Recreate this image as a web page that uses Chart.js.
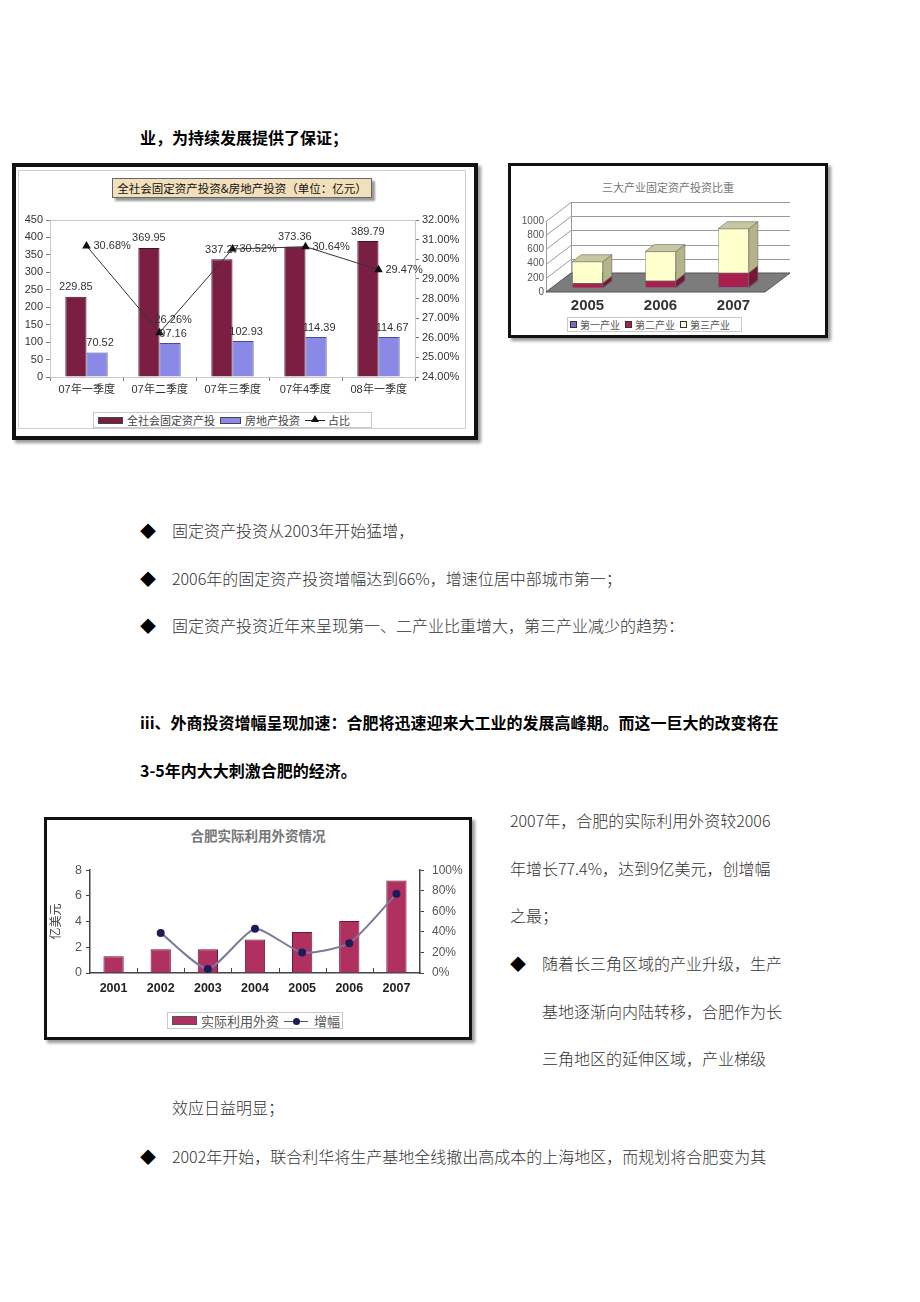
<!DOCTYPE html>
<html lang="zh-CN">
<head>
<meta charset="utf-8">
<title>合肥固定资产投资与外资</title>
<script src="https://cdn.jsdelivr.net/npm/chart.js@4.4.1/dist/chart.umd.min.js"></script>
<style>
html, body { margin: 0; padding: 0; background: #fff; }
body { width: 920px; height: 1302px; position: relative; overflow: hidden;
       font-family: "Noto Sans CJK SC", "Noto Sans", sans-serif; color: #333; }
.t { position: absolute; font-size: 16px; line-height: 20px; white-space: nowrap; font-weight: 300; }
.b { font-weight: bold; color: #000; }
.dot { color: #000; font-weight: normal; }
.frame { position: absolute; box-sizing: border-box; background: #fff; border: 4px solid #111;
         box-shadow: 3px 3px 3px #999; }
.inner { position: absolute; box-sizing: border-box; border: 1px solid #d0d0d0; }
canvas { position: absolute; }
.legend { position: absolute; box-sizing: border-box; border: 1px solid #c8c8c8; background: #fff;
          display: flex; align-items: center; white-space: nowrap; color: #444; }
.sw { display: inline-block; box-sizing: border-box; }
</style>
</head>
<body>

<div class="t b" style="left:140px;top:127px;">业，为持续发展提供了保证；</div>

<!-- 图一：全社会固定资产投资 & 房地产投资 -->
<div class="frame" style="left:12px;top:163px;width:466px;height:277px;"></div>
<div class="inner" style="left:18px;top:170px;width:448px;height:259px;"></div>
<div style="position:absolute;left:112px;top:178px;width:260px;height:20px;box-sizing:border-box;background:#f2dfbb;border:1px solid #666;box-shadow:3px 3px 2px #999;font-size:11.5px;line-height:18px;text-align:center;color:#111;">全社会固定资产投资&amp;房地产投资（单位：亿元）</div>
<canvas id="chart1" width="456" height="197" style="left:16px;top:205px;"></canvas>
<div class="legend" style="left:93px;top:412px;width:279px;height:16px;font-size:11px;padding-left:4px;">
  <span class="sw" style="width:25px;height:7px;background:#7a1f42;border:1px solid #444;"></span>
  <span style="margin:0 5px 0 4px;">全社会固定资产投</span>
  <span class="sw" style="width:21px;height:7px;background:#8a8ae6;border:1px solid #444;"></span>
  <span style="margin:0 5px 0 4px;">房地产投资</span>
  <span style="position:relative;width:20px;height:10px;display:inline-block;">
    <span style="position:absolute;left:0;top:5px;width:20px;height:1px;background:#222;"></span>
    <span style="position:absolute;left:6px;top:0;width:0;height:0;border-left:4px solid transparent;border-right:4px solid transparent;border-bottom:7px solid #111;"></span>
  </span>
  <span style="margin-left:3px;">占比</span>
</div>

<!-- 图二：三大产业固定资产投资比重 -->
<div class="frame" style="left:508px;top:163px;width:320px;height:175px;border-width:3px;"></div>
<div style="position:absolute;left:508px;width:320px;top:179px;text-align:center;font-size:11px;line-height:16px;color:#777;">三大产业固定资产投资比重</div>
<canvas id="chart2" width="306" height="120" style="left:514px;top:195px;"></canvas>
<div class="legend" style="left:567px;top:317px;width:175px;height:15px;font-size:10px;padding-left:2px;color:#555;">
  <span class="sw" style="width:7px;height:7px;background:#7070c0;border:1px solid #333;"></span>
  <span style="margin:0 5px 0 3px;">第一产业</span>
  <span class="sw" style="width:7px;height:7px;background:#a8204c;border:1px solid #333;"></span>
  <span style="margin:0 5px 0 3px;">第二产业</span>
  <span class="sw" style="width:7px;height:7px;background:#ffffcc;border:1px solid #333;"></span>
  <span style="margin:0 0 0 3px;">第三产业</span>
</div>

<div class="t dot" style="left:140px;top:520px;">◆</div>
<div class="t" style="left:172px;top:520px;">固定资产投资从2003年开始猛增，</div>
<div class="t dot" style="left:140px;top:568px;">◆</div>
<div class="t" style="left:172px;top:568px;">2006年的固定资产投资增幅达到66%，增速位居中部城市第一；</div>
<div class="t dot" style="left:140px;top:615px;">◆</div>
<div class="t" style="left:172px;top:615px;">固定资产投资近年来呈现第一、二产业比重增大，第三产业减少的趋势：</div>

<div class="t b" style="left:140px;top:712px;">iii、外商投资增幅呈现加速：合肥将迅速迎来大工业的发展高峰期。而这一巨大的改变将在</div>
<div class="t b" style="left:140px;top:760px;">3-5年内大大刺激合肥的经济。</div>

<!-- 图三：合肥实际利用外资情况 -->
<div class="frame" style="left:44px;top:817px;width:428px;height:223px;border-width:3px;"></div>
<div style="position:absolute;left:44px;width:428px;top:825px;text-align:center;font-size:13.5px;line-height:20px;color:#777;font-weight:bold;">合肥实际利用外资情况</div>
<canvas id="chart3" width="420" height="145" style="left:48px;top:855px;"></canvas>
<div class="legend" style="left:167px;top:1012px;width:176px;height:17px;font-size:13px;padding-left:4px;color:#555;">
  <span class="sw" style="width:25px;height:9px;background:#b03060;border:1px solid #555;"></span>
  <span style="margin:0 5px 0 4px;">实际利用外资</span>
  <span style="position:relative;width:24px;height:10px;display:inline-block;">
    <span style="position:absolute;left:0;top:5px;width:24px;height:1px;background:#555;"></span>
    <span style="position:absolute;left:9px;top:2px;width:7px;height:7px;border-radius:50%;background:#1c1c5c;"></span>
  </span>
  <span style="margin-left:6px;">增幅</span>
</div>

<div class="t" style="left:510px;top:810px;">2007年，合肥的实际利用外资较2006</div>
<div class="t" style="left:510px;top:858px;">年增长77.4%，达到9亿美元，创增幅</div>
<div class="t" style="left:510px;top:905px;">之最；</div>
<div class="t dot" style="left:510px;top:953px;">◆</div>
<div class="t" style="left:542px;top:953px;">随着长三角区域的产业升级，生产</div>
<div class="t" style="left:542px;top:1001px;">基地逐渐向内陆转移，合肥作为长</div>
<div class="t" style="left:542px;top:1048px;">三角地区的延伸区域，产业梯级</div>
<div class="t" style="left:172px;top:1097px;">效应日益明显；</div>
<div class="t dot" style="left:140px;top:1146px;">◆</div>
<div class="t" style="left:172px;top:1146px;">2002年开始，联合利华将生产基地全线撤出高成本的上海地区，而规划将合肥变为其</div>

<script>
// 图一数据
const quarters = ['07年一季度', '07年二季度', '07年三季度', '07年4季度', '08年一季度'];
const fixedInvest = [229.85, 369.95, 337.27, 373.36, 389.79];
const estateInvest = [70.52, 97.16, 102.93, 114.39, 114.67];
const estateShare = [30.68, 26.26, 30.52, 30.64, 29.47];

// 图二数据
const years3d = ['2005', '2006', '2007'];
const primaryInd = [5, 8, 15];
const secondaryInd = [65, 95, 200];
const tertiaryInd = [300, 410, 620];

// 图三数据
const fdiYears = ['2001', '2002', '2003', '2004', '2005', '2006', '2007'];
const fdiAmount = [1.3, 1.85, 1.85, 2.6, 3.2, 4.05, 7.2];
const fdiGrowth = [null, 39, 4, 43, 20, 29, 77];

const tickFont = { family: 'Liberation Sans', size: 11 };

// 图一的数值标签
const chart1Labels = {
    id: 'chart1Labels',
    beforeDatasetsDraw(chart) {
        // 绘图区浅灰边框
        const { ctx, chartArea: a } = chart;
        ctx.save();
        ctx.strokeStyle = '#c8c8c8';
        ctx.lineWidth = 1;
        ctx.strokeRect(a.left + 0.5, a.top + 0.5, a.right - a.left, a.bottom - a.top);
        ctx.restore();
    },
    afterDatasetsDraw(chart) {
        const ctx = chart.ctx;
        ctx.save();
        ctx.font = '11px "Liberation Sans", Arial';
        ctx.fillStyle = '#333';
        ctx.textAlign = 'center';
        ctx.textBaseline = 'bottom';
        [0, 1].forEach(di => {
            const vals = chart.data.datasets[di].data;
            chart.getDatasetMeta(di).data.forEach((bar, i) => {
                ctx.fillText(vals[i].toFixed(2), bar.x + (di === 1 ? 3 : 0), bar.y - 4);
            });
        });
        ctx.textAlign = 'left';
        ctx.textBaseline = 'middle';
        const minShare = Math.min(...estateShare);
        chart.getDatasetMeta(2).data.forEach((pt, i) => {
            const txt = estateShare[i].toFixed(2) + '%';
            if (estateShare[i] === minShare) {
                ctx.fillText(txt, pt.x - 5, pt.y - 13);
            } else {
                ctx.fillText(txt, pt.x + 7, pt.y);
            }
        });
        ctx.restore();
    }
};

new Chart(document.getElementById('chart1'), {
    type: 'bar',
    data: {
        labels: quarters,
        datasets: [
            { label: '全社会固定资产投', data: fixedInvest, backgroundColor: '#7a1f42', borderColor: '#4a0f26', borderWidth: 1, categoryPercentage: 0.58, barPercentage: 1.0, yAxisID: 'y', order: 2 },
            { label: '房地产投资', data: estateInvest, backgroundColor: '#8a8ae6', borderColor: '#4848a0', borderWidth: 1, categoryPercentage: 0.58, barPercentage: 1.0, yAxisID: 'y', order: 2 },
            { type: 'line', label: '占比', data: estateShare, yAxisID: 'y1', borderColor: '#333', borderWidth: 1, backgroundColor: '#111', pointStyle: 'triangle', pointRadius: 5, pointBorderWidth: 0, tension: 0, order: 1 }
        ]
    },
    options: {
        responsive: false,
        animation: false,
        layout: { padding: { top: 15, left: 0, right: 0, bottom: 0 } },
        plugins: { legend: { display: false }, tooltip: { enabled: false } },
        scales: {
            x: {
                afterFit: s => { s.height = 25; },
                grid: { display: true, drawOnChartArea: false, tickLength: 4, color: '#777' },
                border: { color: '#777' },
                ticks: { color: '#333', font: tickFont, padding: 2, maxRotation: 0 }
            },
            y: {
                position: 'left',
                min: 0, max: 450,
                afterFit: s => { s.width = 34; },
                grid: { display: true, drawOnChartArea: false, tickLength: 4, color: '#777' },
                border: { color: '#777' },
                ticks: { stepSize: 50, color: '#333', font: tickFont, padding: 3 }
            },
            y1: {
                position: 'right',
                min: 24, max: 32,
                afterFit: s => { s.width = 57; },
                grid: { display: true, drawOnChartArea: false, tickLength: 4, color: '#777' },
                border: { color: '#999' },
                ticks: { stepSize: 1, color: '#333', font: tickFont, padding: 3, callback: v => v.toFixed(2) + '%' }
            }
        }
    },
    plugins: [chart1Labels]
});

// 图二：假三维的墙面、地板与柱体侧面
const DEPTH_FRONT = [-5, 4];
const DEPTH_BACK = [20, -15];
const BAR_DEPTH = [9, -7];
const sideColors = ['#4a4a90', '#781536', '#b4b488'];
const topColor = '#c8c8a0';

const box3d = {
    id: 'box3d',
    beforeDatasetsDraw(chart) {
        const { ctx, chartArea: a, scales: { y } } = chart;
        const [fx, fy] = DEPTH_FRONT;
        const [bx, by] = DEPTH_BACK;
        const y0 = y.getPixelForValue(0);
        const yTop = y.getPixelForValue(y.max);
        ctx.save();
        ctx.strokeStyle = '#9a9a9a';
        ctx.lineWidth = 1;
        y.ticks.forEach(t => {
            const py = Math.round(y.getPixelForValue(t.value)) + 0.5;
            ctx.beginPath();
            ctx.moveTo(a.left + fx, py + fy);
            ctx.lineTo(a.left + bx, py + by);
            ctx.lineTo(a.right + bx, py + by);
            ctx.stroke();
        });
        ctx.beginPath();
        ctx.moveTo(a.left + fx + 0.5, y0 + fy);
        ctx.lineTo(a.left + fx + 0.5, yTop + fy);
        ctx.moveTo(a.left + bx + 0.5, y0 + by);
        ctx.lineTo(a.left + bx + 0.5, yTop + by);
        ctx.stroke();
        // 地板
        ctx.fillStyle = '#7c7c7c';
        ctx.strokeStyle = '#555';
        ctx.beginPath();
        ctx.moveTo(a.left + fx, y0 + fy);
        ctx.lineTo(a.right + fx, y0 + fy);
        ctx.lineTo(a.right + bx, y0 + by);
        ctx.lineTo(a.left + bx, y0 + by);
        ctx.closePath();
        ctx.fill();
        ctx.stroke();
        ctx.restore();
    },
    afterDatasetsDraw(chart) {
        const ctx = chart.ctx;
        const [dx, dy] = BAR_DEPTH;
        const n = chart.data.datasets.length;
        ctx.save();
        ctx.lineWidth = 0.6;
        ctx.strokeStyle = '#666';
        for (let di = 0; di < n; di++) {
            chart.getDatasetMeta(di).data.forEach(bar => {
                const p = bar.getProps(['x', 'y', 'base', 'width'], true);
                const left = p.x - p.width / 2;
                const right = p.x + p.width / 2;
                const top = Math.min(p.y, p.base);
                const bottom = Math.max(p.y, p.base);
                ctx.fillStyle = sideColors[di];
                ctx.beginPath();
                ctx.moveTo(right, top);
                ctx.lineTo(right + dx, top + dy);
                ctx.lineTo(right + dx, bottom + dy);
                ctx.lineTo(right, bottom);
                ctx.closePath();
                ctx.fill();
                ctx.stroke();
                if (di === n - 1) {
                    ctx.fillStyle = topColor;
                    ctx.beginPath();
                    ctx.moveTo(left, top);
                    ctx.lineTo(left + dx, top + dy);
                    ctx.lineTo(right + dx, top + dy);
                    ctx.lineTo(right, top);
                    ctx.closePath();
                    ctx.fill();
                    ctx.stroke();
                }
            });
        }
        ctx.restore();
    }
};

const bar3dOpts = { categoryPercentage: 0.84, barPercentage: 0.5, borderWidth: 0.6, borderColor: '#666' };

new Chart(document.getElementById('chart2'), {
    type: 'bar',
    data: {
        labels: years3d,
        datasets: [
            Object.assign({ label: '第一产业', data: primaryInd, backgroundColor: '#7070c0' }, bar3dOpts),
            Object.assign({ label: '第二产业', data: secondaryInd, backgroundColor: '#a8204c' }, bar3dOpts),
            Object.assign({ label: '第三产业', data: tertiaryInd, backgroundColor: '#ffffcc' }, bar3dOpts)
        ]
    },
    options: {
        responsive: false,
        animation: false,
        layout: { padding: { top: 22, left: 0, right: 50, bottom: 0 } },
        plugins: { legend: { display: false }, tooltip: { enabled: false } },
        scales: {
            x: {
                stacked: true,
                afterFit: s => { s.height = 27; },
                grid: { display: false, drawTicks: false },
                border: { display: false },
                ticks: { color: '#333', font: { family: 'Liberation Sans', size: 15, weight: 'bold' }, padding: 9 }
            },
            y: {
                stacked: true,
                min: 0, max: 1000,
                afterFit: s => { s.width = 37; },
                grid: { display: false, drawTicks: false },
                border: { display: false },
                ticks: { stepSize: 200, autoSkip: false, color: '#555', font: { family: 'Liberation Sans', size: 10 }, padding: 7, labelOffset: 4, callback: v => String(v) }
            }
        }
    },
    plugins: [box3d]
});

// 图三：x轴上的内向刻度
const innerTicks = {
    id: 'innerTicks',
    afterDraw(chart) {
        const { ctx, chartArea: a, scales: { x } } = chart;
        ctx.save();
        ctx.strokeStyle = '#444';
        ctx.lineWidth = 1;
        for (let i = 0; i < fdiYears.length - 1; i++) {
            const px = Math.round((x.getPixelForTick(i) + x.getPixelForTick(i + 1)) / 2) + 0.5;
            ctx.beginPath();
            ctx.moveTo(px, a.bottom);
            ctx.lineTo(px, a.bottom - 5);
            ctx.stroke();
        }
        ctx.restore();
    }
};

new Chart(document.getElementById('chart3'), {
    type: 'bar',
    data: {
        labels: fdiYears,
        datasets: [
            { label: '实际利用外资', data: fdiAmount, backgroundColor: '#b03060', borderColor: '#6a1634', borderWidth: 1, categoryPercentage: 1.0, barPercentage: 0.43, yAxisID: 'y', order: 2 },
            { type: 'line', label: '增幅', data: fdiGrowth, yAxisID: 'y1', borderColor: '#7a7a98', borderWidth: 2, backgroundColor: '#1c1c5c', pointBackgroundColor: '#1c1c5c', pointBorderColor: '#1c1c5c', pointRadius: 3, tension: 0.2, order: 1 }
        ]
    },
    options: {
        responsive: false,
        animation: false,
        layout: { padding: { top: 13, left: 0, right: 0, bottom: 0 } },
        plugins: { legend: { display: false }, tooltip: { enabled: false } },
        scales: {
            x: {
                afterFit: s => { s.height = 27; },
                grid: { display: false, drawTicks: false },
                border: { color: '#444', width: 1.5 },
                ticks: { color: '#222', font: { family: 'Liberation Sans', size: 12.5, weight: 'bold' }, padding: 8, maxRotation: 0 }
            },
            y: {
                position: 'left',
                min: 0, max: 8,
                afterFit: s => { s.width = 42; },
                title: { display: true, text: '亿美元', color: '#444', font: { family: 'Noto Sans CJK SC', size: 12 }, padding: { top: 0, bottom: 0 } },
                grid: { display: true, drawOnChartArea: false, tickLength: 4, color: '#444' },
                border: { color: '#444', width: 1.5 },
                ticks: { stepSize: 2, color: '#555', font: { family: 'Liberation Sans', size: 12.5 }, padding: 4 }
            },
            y1: {
                position: 'right',
                min: 0, max: 100,
                afterFit: s => { s.width = 48; },
                grid: { display: true, drawOnChartArea: false, tickLength: 4, color: '#444' },
                border: { color: '#444', width: 1.5 },
                ticks: { stepSize: 20, color: '#555', font: { family: 'Liberation Sans', size: 12 }, padding: 8, callback: v => v + '%' }
            }
        }
    },
    plugins: [innerTicks]
});
</script>
</body>
</html>
